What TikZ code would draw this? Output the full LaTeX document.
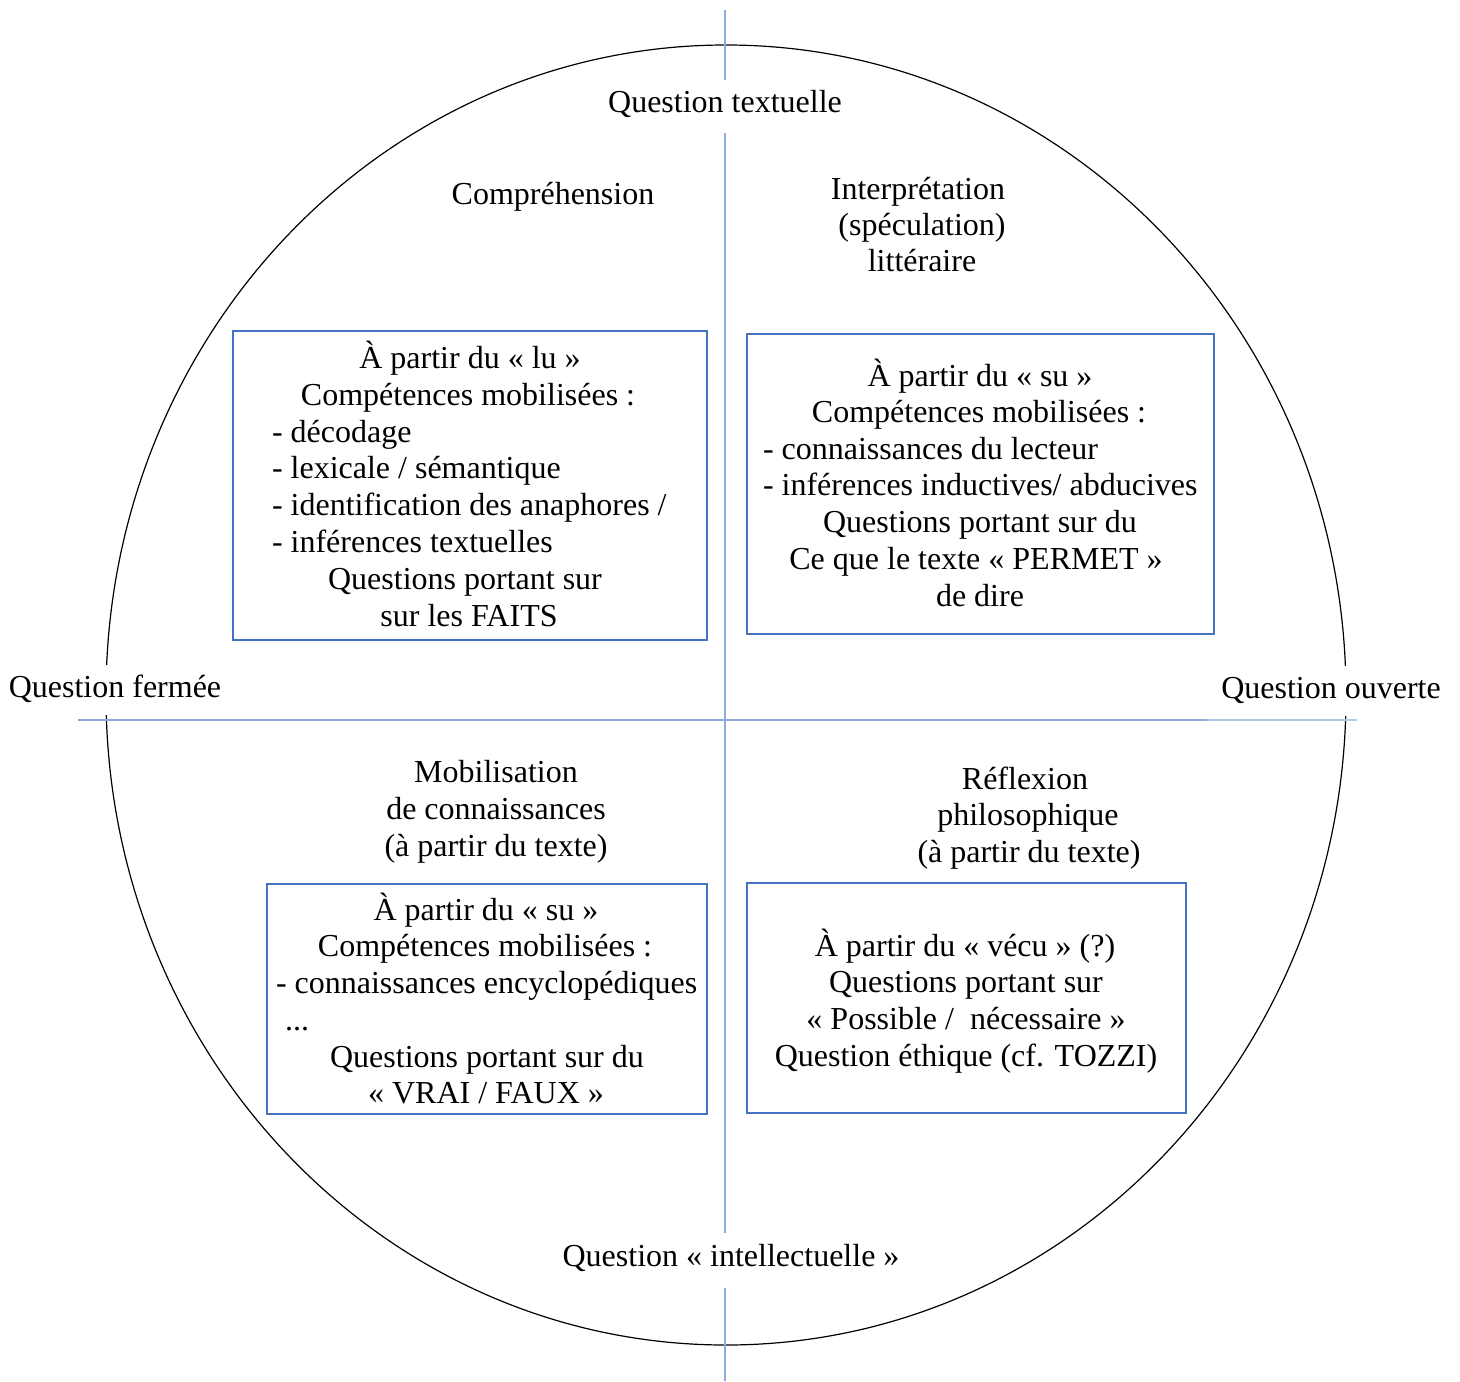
\documentclass[tikz,border=0pt]{standalone}
\usepackage{fontspec}
\setmainfont{Liberation Serif}
\usetikzlibrary{fit}
\definecolor{axisblue}{HTML}{8FAADC}
\definecolor{axislight}{HTML}{B4C7E7}
\definecolor{boxblue}{HTML}{4472C4}
\begin{document}
\begin{tikzpicture}[x=0.5pt,y=-0.5pt,
  every node/.style={inner sep=0pt, outer sep=0pt, font=\fontsize{16pt}{18.4pt}\selectfont},
  txt/.style={anchor=base, yshift=-1pt},
  lft/.style={anchor=base west, yshift=-1pt},
  sidelabel/.style={anchor=base, yshift=-1pt, fill=white, inner xsep=2pt, inner ysep=4pt, text height=12pt, text depth=5pt},
  box/.style={draw=boxblue, line width=0.9pt, inner sep=0pt},
  axis/.style={draw=axisblue, line width=1pt},
  rim/.style={draw=black, line width=0.6pt}]
\useasboundingbox (0,0) rectangle (1460,1381);
% circle (slightly elliptical)
\coordinate (ctr) at (726,695);
\draw[rim] (ctr) ellipse [x radius=310pt, y radius=325pt];
% axes
\coordinate (v0) at (725,10);  \coordinate (v1) at (725,80);
\coordinate (v2) at (725,133); \coordinate (v3) at (725,1233);
\coordinate (v4) at (725,1288); \coordinate (v5) at (725,1381);
\coordinate (h0) at (78,720); \coordinate (h1) at (1207,720); \coordinate (h2) at (1357,720);
\draw[axis] (v0) -- (v1);
\draw[axis] (v2) -- (v3);
\draw[axis] (v4) -- (v5);
\draw[axis] (h0) -- (h1);
\draw[draw=axislight, line width=0.8pt] (h1) -- (h2);
% axis labels
\node[txt] (qtext) at (725,110) {Question textuelle};
\node[txt] (qintel) at (731,1264) {Question « intellectuelle »};
\node[sidelabel] (qferm) at (115,695) {Question fermée};
\node[sidelabel] (qouv) at (1331,696) {Question ouverte};
% quadrant titles
\node[txt] (tcomp) at (553,202) {Compréhension};
\node[txt] (tint1) at (918,197) {Interprétation};
\node[txt] (tint2) at (922,233) {(spéculation)};
\node[txt] (tint3) at (922,269) {littéraire};
\node[txt] (tmob1) at (496,780) {Mobilisation};
\node[txt] (tmob2) at (496,817) {de connaissances};
\node[txt] (tmob3) at (496,854) {(à partir du texte)};
\node[txt] (tref1) at (1025,787) {Réflexion};
\node[txt] (tref2) at (1028,823) {philosophique};
\node[txt] (tref3) at (1029,860) {(à partir du texte)};
% boxes
\coordinate (b1a) at (233,331); \coordinate (b1b) at (707,640);
\coordinate (b2a) at (747,334); \coordinate (b2b) at (1214,634);
\coordinate (b3a) at (267,884); \coordinate (b3b) at (707,1114);
\coordinate (b4a) at (747,883); \coordinate (b4b) at (1186,1113);
\node[box, fit=(b1a)(b1b)] (box1) {};
\node[box, fit=(b2a)(b2b)] (box2) {};
\node[box, fit=(b3a)(b3b)] (box3) {};
\node[box, fit=(b4a)(b4b)] (box4) {};
% box 1 text
\node[txt] (l11) at (470,366) {À partir du « lu »};
\node[txt] (l12) at (468,403) {Compétences mobilisées :};
\node[lft] (l13) at (272,440) {- décodage};
\node[lft] (l14) at (272,476) {- lexicale / sémantique};
\node[lft] (l15) at (272,513) {- identification des anaphores /};
\node[lft] (l16) at (272,550) {- inférences textuelles};
\node[txt] (l17) at (465,587) {Questions portant sur};
\node[txt] (l18) at (469,624) {sur les FAITS};
% box 2 text
\node[txt] (l21) at (980,384) {À partir du « su »};
\node[txt] (l22) at (979,420) {Compétences mobilisées :};
\node[lft] (l23) at (763,457) {- connaissances du lecteur};
\node[lft] (l24) at (763,493) {- inférences inductives/ abducives};
\node[txt] (l25) at (980,530) {Questions portant sur du};
\node[txt] (l26) at (976,567) {Ce que le texte « PERMET »};
\node[txt] (l27) at (980,604) {de dire};
% box 3 text
\node[txt] (l31) at (486,918) {À partir du « su »};
\node[txt] (l32) at (485,954) {Compétences mobilisées :};
\node[lft] (l33) at (276,991) {- connaissances encyclopédiques};
\node[lft] (l34) at (285,1028) {...};
\node[txt] (l35) at (487,1065) {Questions portant sur du};
\node[txt] (l36) at (486,1101) {« VRAI / FAUX »};
% box 4 text
\node[txt] (l41) at (965,954) {À partir du « vécu » (?)};
\node[txt] (l42) at (966,990) {Questions portant sur};
\node[txt] (l43) at (966,1027) {« Possible /~~nécessaire »};
\node[txt] (l44) at (966,1064) {Question éthique (cf. TOZZI)};
\end{tikzpicture}
\end{document}
